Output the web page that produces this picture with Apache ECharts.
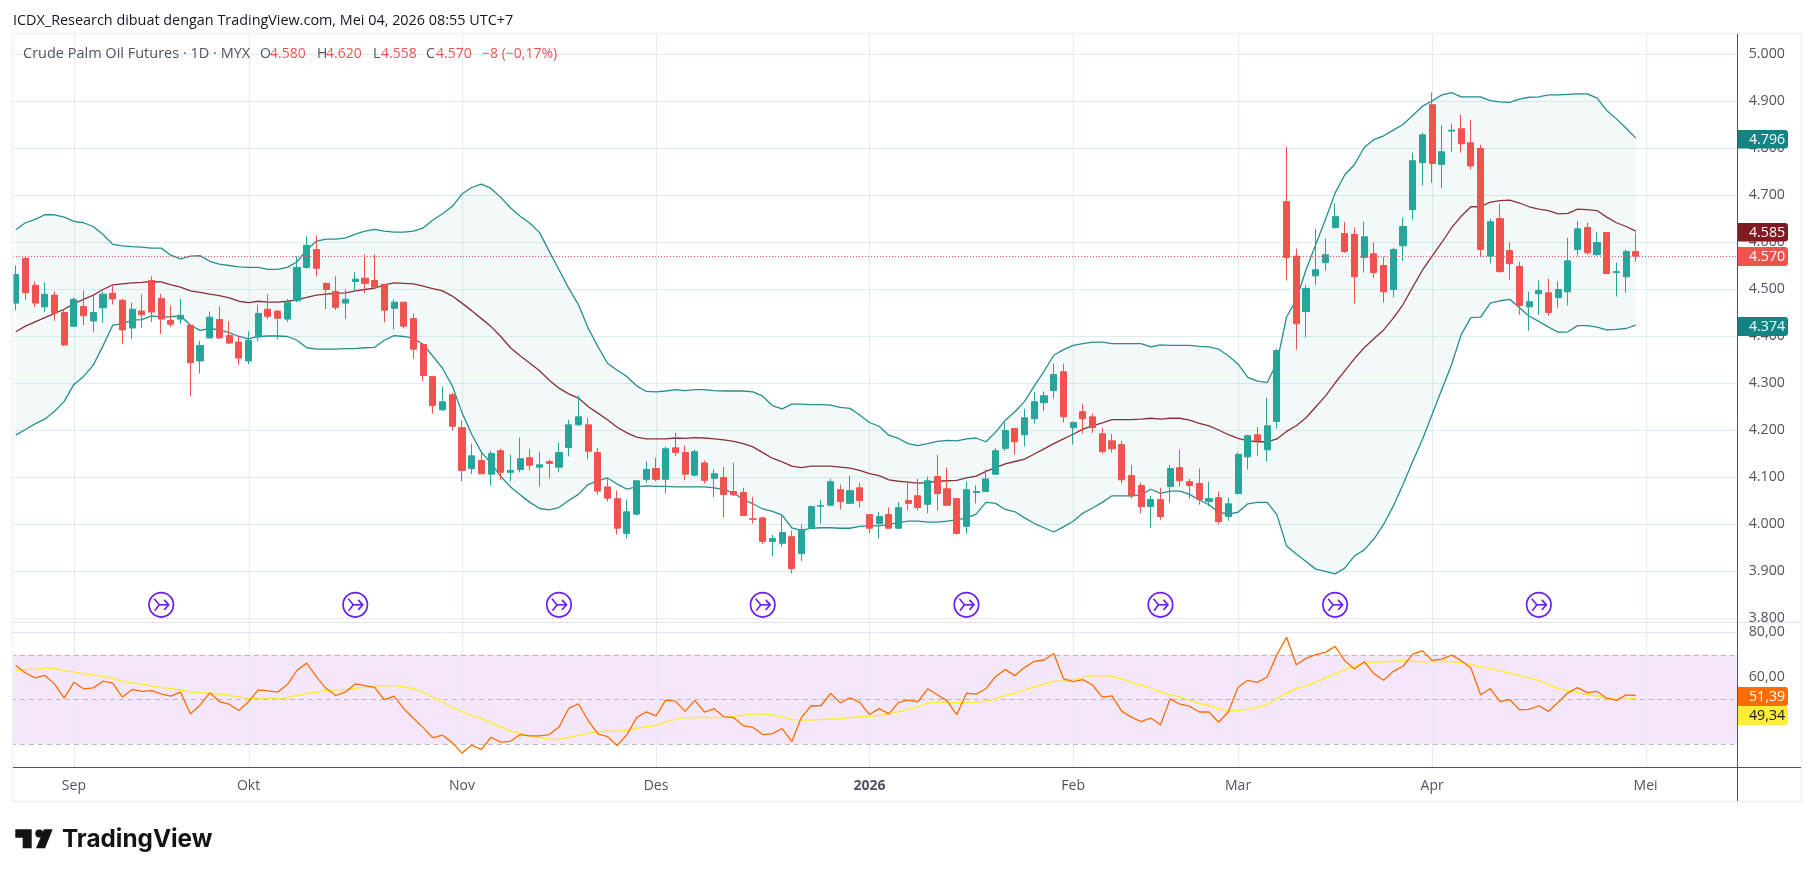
<!DOCTYPE html>
<html><head><meta charset="utf-8">
<style>html,body{margin:0;padding:0;background:#fff}#c{width:1815px;height:877px}</style>
<script src="https://cdn.jsdelivr.net/npm/echarts@6/dist/echarts.min.js"></script>
</head><body><div id="c"></div>
<script>
const opens=[4470,4565,4508,4462,4487,4450,4421,4463,4432,4460,
4491,4476,4417,4453,4518,4480,4433,4436,4423,4347,
4396,4435,4401,4387,4347,4398,4457,4453,4436,4475,
4546,4584,4512,4495,4470,4516,4523,4518,4510,4459,
4472,4437,4382,4314,4243,4275,4205,4118,4135,4106,
4156,4110,4116,4141,4121,4133,4121,4163,4211,4211,
4152,4079,4054,3980,4021,4095,4118,4095,4162,4152,
4104,4130,4097,4099,4069,4067,4011,4013,3963,3959,
3973,3937,3991,4038,4040,4073,4044,4077,4020,4001,
4020,3991,4050,4060,4042,4101,4075,4054,3995,4067,
4069,4106,4161,4203,4190,4224,4258,4284,4324,4205,
4239,4228,4192,4177,4169,4103,4082,4037,4052,4080,
4120,4090,4086,4048,4056,4016,4065,4143,4190,4158,
4218,4686,4570,4452,4528,4556,4631,4618,4616,4567,
4575,4550,4499,4592,4669,4769,4892,4765,4836,4841,
4811,4799,4570,4650,4582,4548,4462,4490,4492,4482,
4494,4584,4631,4573,4620,4535,4526,4580];
const closes=[4531,4492,4470,4489,4449,4381,4478,4443,4450,4489,
4479,4413,4457,4445,4451,4436,4425,4444,4343,4380,
4440,4396,4385,4353,4391,4448,4442,4438,4472,4546,
4593,4544,4499,4461,4478,4521,4512,4504,4455,4472,
4421,4372,4316,4252,4260,4208,4114,4145,4107,4150,
4110,4114,4139,4125,4126,4129,4152,4211,4228,4155,
4070,4055,3991,4026,4092,4116,4095,4160,4152,4106,
4154,4093,4107,4063,4062,4018,4010,3963,3969,3982,
3905,3988,4037,4039,4090,4048,4071,4050,3991,4016,
3991,4035,4044,4035,4092,4065,4040,3980,4073,4069,
4096,4156,4199,4175,4226,4260,4273,4318,4228,4216,
4224,4205,4154,4160,4094,4060,4037,4052,4016,4118,
4092,4082,4052,4054,4005,4043,4148,4188,4177,4209,
4369,4567,4426,4501,4541,4573,4654,4580,4526,4611,
4535,4494,4584,4633,4773,4828,4767,4792,4838,4809,
4762,4584,4643,4537,4554,4465,4473,4497,4450,4499,
4560,4628,4577,4599,4533,4537,4580,4570];
const highs=[4550,4570,4516,4514,4495,4455,4482,4497,4489,4495,
4509,4479,4471,4489,4527,4490,4465,4479,4423,4390,
4452,4463,4431,4401,4410,4467,4489,4455,4479,4570,
4612,4614,4514,4527,4499,4536,4574,4574,4510,4478,
4472,4448,4385,4314,4292,4279,4220,4171,4154,4156,
4160,4148,4184,4160,4154,4137,4173,4222,4273,4226,
4162,4099,4071,4052,4092,4133,4141,4165,4194,4167,
4158,4135,4116,4122,4130,4077,4058,4016,3977,4018,
3986,3999,4039,4052,4096,4084,4103,4088,4020,4026,
4035,4047,4088,4096,4101,4147,4120,4054,4090,4082,
4116,4162,4216,4203,4245,4280,4282,4341,4341,4218,
4256,4235,4205,4192,4177,4126,4088,4060,4077,4126,
4158,4096,4118,4090,4069,4056,4152,4190,4207,4269,
4373,4803,4586,4509,4628,4607,4682,4643,4631,4643,
4599,4569,4588,4652,4790,4833,4918,4848,4852,4871,
4860,4807,4650,4682,4599,4558,4494,4518,4522,4516,
4609,4645,4641,4622,4620,4556,4584,4620];
const lows=[4455,4477,4462,4451,4432,4379,4420,4423,4409,4428,
4467,4383,4394,4417,4430,4404,4419,4426,4272,4321,
4395,4394,4383,4338,4340,4389,4436,4394,4430,4472,
4543,4527,4457,4455,4436,4496,4491,4501,4429,4414,
4416,4352,4304,4235,4241,4199,4091,4106,4106,4082,
4094,4091,4110,4114,4080,4097,4110,4144,4208,4138,
4063,4048,3978,3969,4018,4088,4091,4065,4144,4093,
4101,4086,4057,4014,4060,4018,4001,3957,3931,3952,
3895,3921,3989,4001,4039,4031,4043,4035,3980,3969,
3990,3990,4029,4029,4023,4029,4039,3978,3980,4044,
4069,4105,4155,4148,4165,4214,4241,4267,4216,4169,
4192,4194,4150,4152,4086,4054,4022,3992,4009,4045,
4080,4054,4041,4038,3999,4007,4063,4116,4145,4133,
4203,4518,4371,4397,4509,4539,4628,4577,4469,4535,
4524,4471,4482,4560,4648,4720,4726,4714,4792,4790,
4754,4569,4554,4535,4520,4445,4411,4445,4443,4460,
4465,4571,4573,4571,4533,4484,4492,4558];
const bbUpper=[4626,4641,4648,4658,4658,4653,4644,4641,4633,4616,
4595,4592,4590,4589,4587,4587,4572,4564,4570,4571,
4559,4553,4550,4547,4546,4546,4542,4542,4546,4558,
4583,4602,4606,4606,4609,4617,4623,4627,4623,4621,
4621,4623,4630,4647,4660,4676,4702,4716,4723,4714,
4695,4673,4655,4640,4620,4580,4541,4502,4467,4417,
4378,4342,4327,4314,4294,4282,4281,4283,4286,4284,
4286,4286,4284,4283,4283,4283,4281,4272,4252,4245,
4255,4255,4254,4254,4253,4248,4246,4232,4216,4208,
4189,4182,4171,4167,4171,4176,4178,4177,4181,4183,
4175,4195,4221,4239,4261,4294,4325,4359,4371,4380,
4384,4387,4387,4384,4384,4384,4384,4377,4381,4380,
4380,4380,4378,4377,4372,4358,4340,4312,4304,4301,
4343,4441,4477,4541,4594,4648,4704,4743,4765,4801,
4818,4826,4838,4850,4869,4889,4900,4913,4918,4909,
4909,4909,4901,4898,4897,4904,4908,4909,4913,4913,
4914,4915,4915,4906,4880,4862,4842,4821];
const bbLower=[4189,4201,4213,4223,4240,4261,4297,4314,4338,4379,
4423,4426,4434,4435,4443,4440,4441,4443,4423,4412,
4416,4413,4407,4399,4394,4399,4400,4400,4399,4391,
4375,4372,4372,4372,4373,4373,4375,4376,4391,4401,
4399,4395,4382,4357,4331,4294,4237,4191,4153,4129,
4101,4079,4062,4046,4033,4030,4035,4050,4063,4084,
4092,4098,4085,4074,4079,4081,4080,4080,4079,4079,
4079,4079,4077,4073,4066,4052,4043,4032,4027,4019,
3992,3986,3991,3992,3992,3991,3991,3995,3996,3996,
3999,4003,4006,4006,4004,4004,4006,4009,4013,4021,
4046,4044,4031,4026,4013,4001,3992,3983,3994,4006,
4023,4034,4046,4060,4060,4060,4062,4074,4065,4070,
4070,4063,4051,4041,4025,4021,4025,4043,4046,4046,
4020,3953,3936,3920,3904,3899,3894,3906,3932,3945,
3968,3999,4038,4084,4133,4180,4233,4286,4339,4403,
4439,4440,4470,4475,4478,4460,4442,4431,4419,4408,
4409,4422,4422,4419,4413,4414,4416,4423];
const bbBasis=[4409,4421,4430,4439,4448,4457,4469,4478,4487,4499,
4509,4511,4513,4514,4516,4515,4509,4504,4496,4493,
4489,4486,4481,4474,4471,4474,4472,4472,4474,4477,
4482,4487,4489,4491,4492,4496,4499,4502,4509,4513,
4512,4511,4506,4501,4496,4485,4470,4454,4437,4420,
4399,4375,4358,4342,4326,4306,4289,4277,4268,4250,
4236,4222,4206,4194,4185,4181,4181,4181,4183,4182,
4184,4183,4181,4179,4176,4171,4164,4152,4140,4132,
4123,4120,4123,4123,4123,4121,4119,4114,4107,4103,
4094,4091,4089,4087,4088,4091,4092,4093,4098,4102,
4112,4120,4128,4133,4138,4149,4160,4171,4181,4191,
4202,4209,4215,4222,4222,4222,4223,4225,4223,4225,
4225,4221,4214,4209,4200,4190,4182,4177,4175,4175,
4181,4197,4209,4226,4249,4272,4300,4326,4352,4375,
4394,4413,4438,4467,4504,4540,4570,4599,4630,4655,
4675,4675,4685,4688,4689,4683,4675,4670,4667,4660,
4661,4670,4669,4667,4653,4641,4633,4623];
const rsi=[65.2,61.8,59.6,60.7,56.9,50.5,57.6,54.7,55.1,58.1,
57.2,51,54.4,53.5,53.9,52.4,51.4,53.2,43.4,47.4,
52.9,49,47.8,45,48.9,54.2,53.8,53.2,56.6,63,
66.2,60,54.8,51.7,53.3,56.9,56.1,55.3,49.8,51.4,
45.8,41.5,37.3,32.8,33.9,30.6,25.9,29.4,27.6,33,
30.8,31.2,34.2,33.6,33.6,34.2,37.6,45.9,48,40.6,
34.5,33.3,29.3,34.2,41.8,44.4,42.6,49.6,49.2,44.6,
49.5,44.3,45.8,42.2,41.8,38.2,37.4,34.2,34.6,36.9,
31.2,42,47.1,47.1,52.6,48.4,50.7,48.6,43.2,45.8,
43.5,48.6,49.6,48.9,54.7,52,49.3,43.1,52.7,52.3,
54.7,60.2,63.3,60.6,64.3,67,67.6,70.5,59.3,57.9,
58.8,56.4,51,51.5,44.7,42,40,41.6,38.6,50.2,
47.8,46.9,44.3,44.3,39.7,44.4,55.4,58.5,57.6,60,
70,77.8,65.5,68.3,70,71,73.7,67.3,63.6,66.8,
61.5,58.5,62.5,64.8,70.2,71.7,67.4,68,69.8,67.3,
64,52,54.8,49,49.9,45.3,45.5,47.1,44.6,48.7,
52.9,55.2,53,53.5,50.5,49.5,52,51.7];
const rsiMa=[62.8,63.3,63.4,63.9,63.9,62.8,62.2,61.5,60.9,60.3,
59.3,58.1,57.3,56.7,55.9,55.3,54.8,54.2,53.3,53,
52.7,52.3,51.8,51,50.4,50.5,50.5,50.4,50.7,51.7,
52.6,53.2,53.9,54.2,54.4,54.8,55.4,56,56.1,56.1,
55.6,54.7,53.2,50.7,48.7,46.5,44.4,42.8,41.3,39.5,
37.7,35.8,34.8,33.6,32.9,32.1,32,32.9,33.9,34.8,
35.5,35.7,35.8,36,37,37.7,38.3,39.8,41,41.8,
41.9,41.8,41.8,42,42.3,42.8,43.4,43.4,43,42.2,
41,40.7,40.7,40.9,41.2,41.3,41.8,42.2,42.3,42.8,
43.5,44.4,45.6,46.7,48.3,48.7,48.7,48.4,48.6,48.7,
49.2,50.2,51.7,52.7,54.2,55.6,56.7,58.1,58.2,58.8,
59.7,60.5,60.5,60.3,59.1,57.6,56.3,55,53.2,52.1,
51,49.5,48.1,47.2,45.8,44.9,45,45.5,46.4,47.7,
50.2,52.7,54.7,55.9,57.6,59.4,61.5,63.1,64.8,66.5,
66.7,66.7,67,67.4,67,66.8,66.8,67,66.8,66.5,
65.6,64.5,63.9,62.7,61.8,60.8,59.6,58.4,56.4,54.8,
53.8,53,52,51.5,50.5,50,50,50.5];
const monthIndex=[6,24,46,66,88,109,126,146,168];
const monthLabels=['Sep','Okt','Nov','Des','2026','Feb','Mar','Apr','Mei'];
const markerIndex=[15,35,56,77,98,118,136,157];
const markerPrice=[3828];
const priceTicks=[3800,3900,4000,4100,4200,4300,4400,4500,4600,4700,4800,4900,5000];
const rsiGrid=[40,60,80];
const rsiTickLabels=[60,80];
const rsiBandLevels=[30,50,70];
const lastPrice=[4570];
const SLOTS=178;
const categories=Array.from({length:SLOTS},(_,i)=>{const k=monthIndex.indexOf(i);return k>=0?monthLabels[k]:''});

const FONT='"Open Sans",sans-serif';
const TXT='#50535e', GRID='#e1ecf2', UP='#26a69a', DOWN='#ef5350', BB='#138484', BASIS='#801922';
const fmtPrice=v=>{const s=String(Math.round(v));return s.slice(0,-3)+'.'+s.slice(-3)};
const fmtRsi=v=>v.toFixed(2).replace('.',',');

function vLines(ax){return {type:'custom',xAxisIndex:ax,yAxisIndex:ax,z:1,silent:true,data:monthIndex.map(i=>[i,ax?50:4500]),
  renderItem:(p,api)=>{const c=p.coordSys,x=Math.round(api.coord([api.value(0),api.value(1)])[0])+.5;
    return {type:'line',shape:{x1:x,y1:c.y,x2:x,y2:c.y+c.height},style:{stroke:GRID,lineWidth:1}}}}}

const tx=(x,y,text,fill,size,extra)=>Object.assign({type:'text',z:110,silent:true,x,y,style:Object.assign({text,fill,fontSize:size,fontFamily:FONT,textVerticalAlign:'middle',verticalAlign:'middle'},{})},extra||{});
const tag=(y1,y2,bg,fg,label)=>[{type:'rect',z:105,silent:true,shape:{x:1738,y:y1,width:50,height:y2-y1,r:[0,3,3,0]},style:{fill:bg}},
  tx(1749,(y1+y2)/2+.5,label,fg,14.2)];
const legend=[[23,'Crude Palm Oil Futures · 1D · MYX',TXT,14.5],[260,'O',TXT,14],[270,'4.580',DOWN,14],[317,'H',TXT,14],[326,'4.620',DOWN,14],[373,'L',TXT,14],[381,'4.558',DOWN,14],[426,'C',TXT,14],[436,'4.570',DOWN,14],[482,'−8 (−0,17%)',DOWN,14]];

const graphics=[
 {type:'rect',z:90,silent:true,shape:{x:0,y:0,width:12,height:877},style:{fill:'#fff'}},
 {type:'rect',z:91,silent:true,shape:{x:12.5,y:33.5,width:1789,height:768},style:{fill:'none',stroke:'#f1f3f6',lineWidth:2}},
 {type:'line',z:92,silent:true,shape:{x1:13,y1:622.5,x2:1801,y2:622.5},style:{stroke:'#e0e3eb',lineWidth:1}},
 {type:'line',z:93,silent:true,shape:{x1:13,y1:767.5,x2:1801,y2:767.5},style:{stroke:'#50535e',lineWidth:1}},
 {type:'line',z:93,silent:true,shape:{x1:1737.5,y1:34,x2:1737.5,y2:801},style:{stroke:'#50535e',lineWidth:1}},
 tx(13,20.5,'ICDX_Research dibuat dengan TradingView.com, Mei 04, 2026 08:55 UTC+7','#131722',14.4),
 ...legend.map(l=>tx(l[0],54,l[1],l[2],l[3])),
 ...tag(130,148.5,'#138484','#fff','4.796'),
 ...tag(223,241.5,'#801922','#fff','4.585'),
 ...tag(247,266,DOWN,'#fff','4.570'),
 ...tag(317,336,'#138484','#fff','4.374'),
 ...tag(687,706,'#ff6d00','#fff','51,39'),
 ...tag(706,725,'#ffeb3b','#131722','49,34'),
 {type:'polygon',z:110,silent:true,shape:{points:[[15.3,829.3],[31.7,829.3],[31.7,848.3],[22.7,848.3],[22.7,837.7],[15.3,837.7]]},style:{fill:'#131313'}},
 {type:'circle',z:110,silent:true,shape:{cx:39.3,cy:833.4,r:4},style:{fill:'#131313'}},
 {type:'polygon',z:110,silent:true,shape:{points:[[44,829.3],[52.7,829.3],[45,848.3],[36,848.3]]},style:{fill:'#131313'}},
 {type:'text',z:110,silent:true,x:62,y:840,style:{text:'TradingView',fill:'#131313',fontSize:24.3,fontWeight:700,fontFamily:'Inter,sans-serif',verticalAlign:'middle',textVerticalAlign:'middle'}}
];

const chart=echarts.init(document.getElementById('c'),null,{renderer:'canvas'});
chart.setOption({
 animation:false,backgroundColor:'#fff',
 grid:[{left:10.85,width:1726.85,top:34,height:588,containLabel:false},{left:10.85,width:1726.85,top:623,height:144,containLabel:false}],
 xAxis:[
  {type:'category',gridIndex:0,data:categories,boundaryGap:true,axisLine:{show:false},axisTick:{show:false},axisLabel:{show:false},splitLine:{show:false}},
  {type:'category',gridIndex:1,data:categories,boundaryGap:true,axisLine:{show:false},axisTick:{show:false},splitLine:{show:false},
   axisLabel:{show:true,interval:(i,v)=>v!=='',margin:12,color:TXT,fontSize:14,fontFamily:FONT,
    formatter:v=>v==='2026'?'{b|2026}':v,rich:{b:{fontWeight:'bold',fontSize:14,color:'#50535e',fontFamily:FONT}}}}
 ],
 yAxis:[
  {type:'value',gridIndex:0,position:'right',min:3791.5,max:5042.6,scale:true,axisLine:{show:false},axisTick:{show:false,customValues:priceTicks},
   axisLabel:{customValues:priceTicks,color:TXT,fontSize:14.2,fontFamily:FONT,margin:11,padding:[2,0,0,0],formatter:fmtPrice,showMinLabel:true,showMaxLabel:true},
   splitLine:{show:true,lineStyle:{color:GRID,width:1}}},
  {type:'value',gridIndex:1,position:'right',min:19.68,max:84.16,scale:true,axisLine:{show:false},axisTick:{show:false,customValues:rsiGrid},
   axisLabel:{customValues:rsiTickLabels,color:TXT,fontSize:14.2,fontFamily:FONT,margin:11,padding:[2,0,0,0],formatter:fmtRsi},
   splitLine:{show:true,lineStyle:{color:'#e2e3ef',width:1}}}
 ],
 series:[
  vLines(0),vLines(1),
  {type:'custom',name:'BB band',xAxisIndex:0,yAxisIndex:0,z:2,silent:true,data:[[0,4500]],
   renderItem:(p,api)=>{const pts=bbUpper.map((v,i)=>api.coord([i,v])).concat(bbLower.map((v,i)=>api.coord([i,v])).reverse());
    return {type:'polygon',shape:{points:pts},style:{fill:'rgba(19,132,132,0.05)'}}}},
  {type:'line',name:'BB upper',xAxisIndex:0,yAxisIndex:0,z:3,data:bbUpper,symbol:'none',lineStyle:{color:BB,width:1.3,opacity:.92}},
  {type:'line',name:'BB lower',xAxisIndex:0,yAxisIndex:0,z:3,data:bbLower,symbol:'none',lineStyle:{color:BB,width:1.3,opacity:.92}},
  {type:'line',name:'BB basis',xAxisIndex:0,yAxisIndex:0,z:3,data:bbBasis,symbol:'none',lineStyle:{color:BASIS,width:1.3,opacity:.9}},
  {type:'candlestick',name:'CPO',xAxisIndex:0,yAxisIndex:0,z:5,clip:false,barWidth:6.6,
   data:opens.map((o,i)=>[o,closes[i],lows[i],highs[i]]),
   itemStyle:{color:UP,color0:DOWN,borderColor:UP,borderColor0:DOWN,borderWidth:1}},
  {type:'custom',name:'last',xAxisIndex:0,yAxisIndex:0,z:6,silent:true,data:[[0,lastPrice[0]]],
   renderItem:(p,api)=>{const c=p.coordSys,y=Math.round(api.coord([0,api.value(1)])[1])+.5;
    return {type:'line',shape:{x1:13,y1:y,x2:c.x+c.width,y2:y},style:{stroke:DOWN,lineWidth:1,lineDash:[1,2]}}}},
  {type:'custom',name:'events',xAxisIndex:0,yAxisIndex:0,z:7,silent:true,data:markerIndex.map(i=>[i,markerPrice[0]]),
   renderItem:(p,api)=>{const [x,y]=api.coord([api.value(0),api.value(1)]);const col='#6a1bf5';
    const sty={stroke:col,lineWidth:1.6,fill:null};
    return {type:'group',x,y,children:[
     {type:'circle',shape:{cx:0,cy:0,r:12.2},style:{stroke:col,lineWidth:1.7,fill:'#fff'}},
     {type:'polyline',shape:{points:[[-7,-6],[-2,0],[-6.5,6]]},style:sty},
     {type:'polyline',shape:{points:[[-2,0],[7.5,0]]},style:sty},
     {type:'polyline',shape:{points:[[3,-5],[7.5,0],[3,5]]},style:sty}]}}},
  {type:'custom',name:'RSI band',xAxisIndex:1,yAxisIndex:1,z:0,silent:true,data:[[0,rsiBandLevels[0]]],
   renderItem:(p,api)=>{const c=p.coordSys,yT=api.coord([0,rsiBandLevels[2]])[1],yB=api.coord([0,rsiBandLevels[0]])[1];
    return {type:'rect',shape:{x:c.x,y:yT,width:c.width,height:yB-yT},style:{fill:'#f4e7fc'}}}},
  {type:'custom',name:'RSI levels',xAxisIndex:1,yAxisIndex:1,z:2,silent:true,data:rsiBandLevels.map(v=>[0,v]),
   renderItem:(p,api)=>{const c=p.coordSys,y=Math.round(api.coord([0,api.value(1)])[1])+.5;
    return {type:'line',shape:{x1:c.x,y1:y,x2:c.x+c.width-4,y2:y},style:{stroke:'#bdb6c2',lineWidth:1,lineDash:[5,4]}}}},
  {type:'line',name:'RSI MA',xAxisIndex:1,yAxisIndex:1,z:3,data:rsiMa,symbol:'none',lineStyle:{color:'#ffeb3b',width:1.5}},
  {type:'line',name:'RSI',xAxisIndex:1,yAxisIndex:1,z:4,data:rsi,symbol:'none',lineStyle:{color:'#ff6d00',width:1.3}}
 ],
 graphic:{elements:graphics}
});
</script></body></html>
